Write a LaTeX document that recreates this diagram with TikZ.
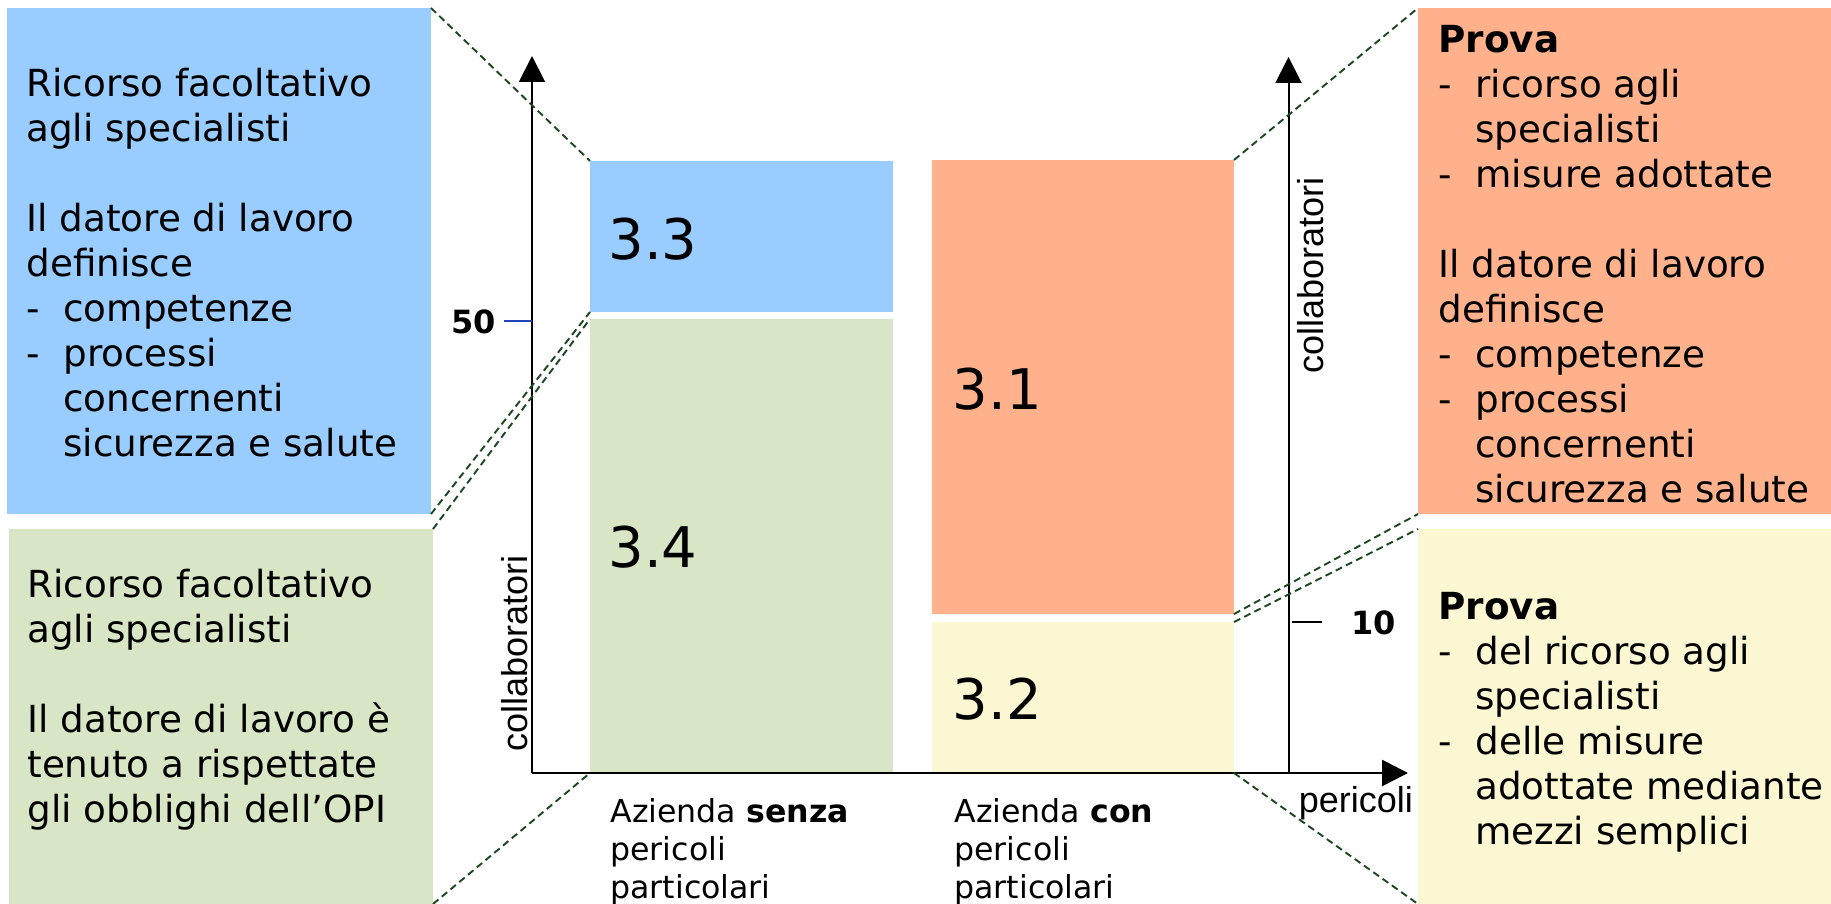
\documentclass[tikz,border=0pt]{standalone}
\usepackage{fontspec}
\setmainfont{DejaVu Sans}
\newfontfamily\axisfont{Liberation Sans}
\usetikzlibrary{arrows.meta}
\definecolor{cblue}{HTML}{99CCFF}
\definecolor{cgreen}{HTML}{D9E6C5}
\definecolor{corange}{HTML}{FFB18C}
\definecolor{cyellow}{HTML}{FBF7D3}
\definecolor{cdash}{HTML}{1C4620}
\definecolor{ctick}{HTML}{2244BB}
\newcommand{\itm}[1]{\makebox[18.5pt][l]{-}#1}
\newcommand{\cnt}[1]{\hspace*{18.5pt}#1}
\begin{document}
\begin{tikzpicture}[x=0.5pt,y=-0.5pt,
  area/.style={draw=none, inner sep=0pt, outer sep=0pt, anchor=center},
  boxtext/.style={anchor=base west, inner sep=0pt, font=\fontsize{18.65}{22.5}\selectfont},
  bignum/.style={anchor=base west, inner sep=0pt, font=\fontsize{28}{32}\selectfont},
  caption/.style={anchor=base west, inner sep=0pt, font=\fontsize{15.8}{19}\selectfont},
  ticklbl/.style={inner sep=0pt, font=\bfseries\fontsize{16}{19}\selectfont},
  axislbl/.style={inner sep=0pt, font=\axisfont\fontsize{18}{21}\selectfont},
  zoomline/.style={draw=cdash, line width=0.95pt, dash pattern=on 3.5pt off 2.2pt},
  axisarrow/.style={draw=black, -{Triangle[length=13pt,width=13pt]}},
]
\useasboundingbox (0,0) rectangle (1831,904);

% large side boxes
\node[area, fill=cblue,   minimum width=212pt,   minimum height=253pt]   (lb) at (219,261) {};
\node[area, fill=cgreen,  minimum width=212pt,   minimum height=187.5pt] (lg) at (221,716.5) {};
\node[area, fill=corange, minimum width=206.5pt, minimum height=253pt]   (ro) at (1624.5,261) {};
\node[area, fill=cyellow, minimum width=206.5pt, minimum height=187.5pt] (ry) at (1624.5,716.5) {};

% chart areas
\node[area, fill=cblue,   minimum width=151.5pt, minimum height=75.5pt] (r33) at (741.5,236.5) {};
\node[area, fill=cgreen,  minimum width=151.5pt, minimum height=227pt]  (r34) at (741.5,546) {};
\node[area, fill=corange, minimum width=151pt,   minimum height=227pt]  (r31) at (1083,387) {};
\node[area, fill=cyellow, minimum width=151pt,   minimum height=75.5pt] (r32) at (1083,697.5) {};

\node[bignum] (n33) at (608,259) {3.3};
\node[bignum] (n34) at (608,567) {3.4};
\node[bignum] (n31) at (952.5,409) {3.1};
\node[bignum] (n32) at (952.5,719) {3.2};

% box texts
\node[boxtext] (lbt) at (26,97) {\begin{tabular}[t]{@{}l@{}}Ricorso facoltativo\\agli specialisti\\ \\Il datore di lavoro\\definisce\\\itm{competenze}\\\itm{processi}\\\cnt{concernenti}\\\cnt{sicurezza e salute}\end{tabular}};
\node[boxtext] (lgt) at (27,597) {\begin{tabular}[t]{@{}l@{}}Ricorso facoltativo\\agli specialisti\\ \\Il datore di lavoro è\\tenuto a rispettate\\gli obblighi dell’OPI\end{tabular}};
\node[boxtext] (rot) at (1438,53) {\begin{tabular}[t]{@{}l@{}}\textbf{Prova}\\\itm{ricorso agli}\\\cnt{specialisti}\\\itm{misure adottate}\\ \\Il datore di lavoro\\definisce\\\itm{competenze}\\\itm{processi}\\\cnt{concernenti}\\\cnt{sicurezza e salute}\end{tabular}};
\node[boxtext] (ryt) at (1438,619) {\begin{tabular}[t]{@{}l@{}}\textbf{Prova}\\\itm{del ricorso agli}\\\cnt{specialisti}\\\itm{delle misure}\\\cnt{adottate mediante}\\\cnt{mezzi semplici}\end{tabular}};

% captions
\node[caption] (cap1) at (610,822) {\begin{tabular}[t]{@{}l@{}}Azienda \textbf{senza}\\pericoli\\particolari\end{tabular}};
\node[caption] (cap2) at (954,822) {\begin{tabular}[t]{@{}l@{}}Azienda \textbf{con}\\pericoli\\particolari\end{tabular}};

% axes
\coordinate (o1) at (532,773);
\coordinate (y1top) at (532,56);
\coordinate (xend) at (1408,773);
\coordinate (o2) at (1288.5,773);
\coordinate (y2top) at (1288.5,57);
\draw[axisarrow, line width=1pt] (o1) -- (y1top);
\draw[axisarrow, line width=1pt] (o2) -- (y2top);
\draw[axisarrow, line width=1.4pt] (o1) -- (xend);

\node[axislbl, rotate=90, anchor=base] (ylab1) at (527,653.5) {collaboratori};
\node[axislbl, rotate=90, anchor=base] (ylab2) at (1323.5,275.5) {collaboratori};
\node[axislbl, anchor=base west] (xlab) at (1298.5,812.5) {pericoli};

% ticks
\coordinate (t50a) at (503.5,321);
\coordinate (t50b) at (532,321);
\draw[ctick, line width=0.8pt] (t50a) -- (t50b);
\node[ticklbl, anchor=base east] (l50) at (496,333) {50};
\coordinate (t10a) at (1291.5,622);
\coordinate (t10b) at (1321.5,622);
\draw[black, line width=1pt] (t10a) -- (t10b);
\node[ticklbl, anchor=base west] (l10) at (1351,634) {10};

% zoom connectors
\draw[zoomline] (lb.north east) -- (r33.north west);
\draw[zoomline] (lb.south east) -- (r33.south west);
\draw[zoomline] (lg.north east) -- (r34.north west);
\draw[zoomline] (lg.south east) -- (r34.south west);
\draw[zoomline] (r31.north east) -- (ro.north west);
\draw[zoomline] (r31.south east) -- (ro.south west);
\draw[zoomline] (r32.north east) -- (ry.north west);
\draw[zoomline] (r32.south east) -- (ry.south west);
\end{tikzpicture}
\end{document}
